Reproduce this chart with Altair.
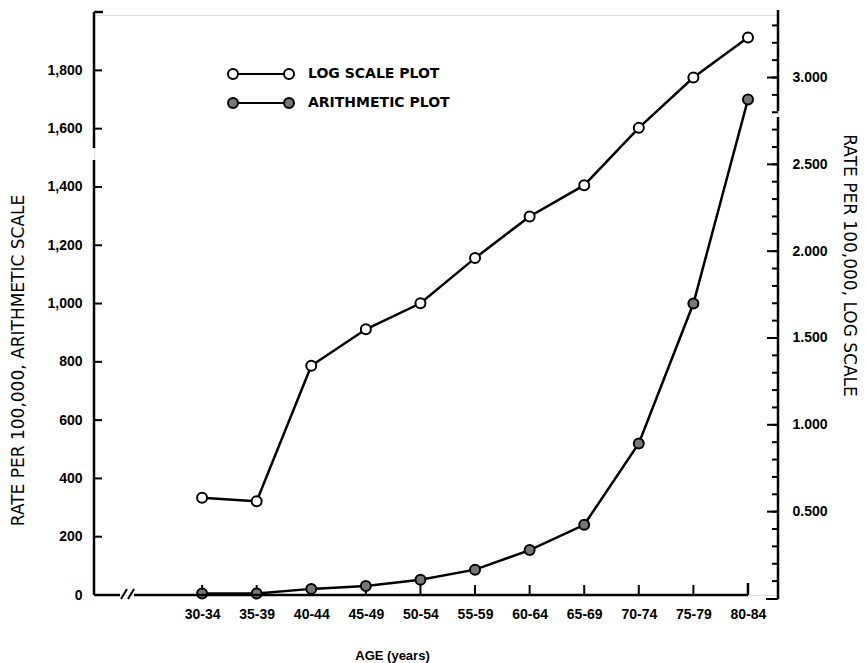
import altair as alt
import pandas as pd

# ---------------- data ----------------
age_groups = ["30-34", "35-39", "40-44", "45-49", "50-54", "55-59",
              "60-64", "65-69", "70-74", "75-79", "80-84"]
arith_rate = [5, 5, 21, 31, 52, 87, 154, 241, 520, 1000, 1700]          # left axis
log_rate = [0.58, 0.56, 1.34, 1.55, 1.70, 1.96, 2.20, 2.38, 2.71, 3.00, 3.23]  # right axis
left_ticks = [0, 200, 400, 600, 800, 1000, 1200, 1400, 1600, 1800]
right_major = [0.5, 1.0, 1.5, 2.0, 2.5, 3.0]
right_minor = [i / 10 for i in range(1, 34)]
legend_labels = ["LOG SCALE PLOT", "ARITHMETIC PLOT"]
x_title = "AGE (years)"
left_title = "RATE PER 100,000, ARITHMETIC SCALE"
right_title = "RATE PER 100,000, LOG SCALE"

# ---------------- layout / style ----------------
FONT = "Liberation Sans"
TFONT = "DejaVu Sans"
W, H = 684, 580
XMIN, XMAX = -1.98, 10.55
LW = 2.5

df = pd.DataFrame({"idx": list(range(len(age_groups))), "age": age_groups,
                   "arith": arith_rate, "log": log_rate})
one = pd.DataFrame({"d": [0]})

label_expr = "[" + ",".join(f"'{a}'" for a in age_groups) + "][datum.value]"

x_axis = alt.Axis(values=list(range(len(age_groups))), labelExpr=label_expr,
                  domain=False, ticks=False, grid=False, labelPadding=12,
                  labelFont=FONT, labelFontSize=14, labelFontWeight="bold", labelColor="black",
                  title=x_title, titleX=298, titleY=60, titleAlign="center",
                  titleBaseline="middle", titleFont=FONT, titleFontSize=13,
                  titleFontWeight="bold", titleColor="black")
xenc = alt.X("idx:Q", scale=alt.Scale(domain=[XMIN, XMAX], nice=False, zero=False), axis=x_axis)

left_axis = alt.Axis(values=left_ticks, format=",d", domain=False, ticks=False, grid=False,
                     labelPadding=12, labelFont=FONT, labelFontSize=14, labelFontWeight="bold",
                     labelColor="black", title=left_title, titleX=-76, titleY=345,
                     titleAngle=270, titleAlign="center", titleBaseline="middle",
                     titleFont=TFONT, titleFontSize=17, titleFontWeight="normal", titleColor="black")
yL = alt.Y("arith:Q", scale=alt.Scale(domain=[0, 1990], nice=False, zero=False), axis=left_axis)

right_axis = alt.Axis(orient="right", values=right_major, format=".3f", domain=False, ticks=False,
                      grid=False, labelPadding=14, labelFont=FONT, labelFontSize=14,
                      labelFontWeight="bold", labelColor="black", title=right_title,
                      titleX=70, titleY=250, titleAngle=90, titleAlign="center",
                      titleBaseline="middle", titleFont=TFONT, titleFontSize=17,
                      titleFontWeight="normal", titleColor="black")
yR = alt.Y("log:Q", scale=alt.Scale(domain=[0.02, 3.36], nice=False, zero=False), axis=right_axis)

x_end = (10 - XMIN) / (XMAX - XMIN) * W

# ---------------- arithmetic (left) group ----------------
x_tick_rules = alt.Chart(df).mark_rule(color="black", strokeWidth=2).encode(
    x=xenc, y=alt.value(H), y2=alt.value(H - 10))
arith_line = alt.Chart(df).mark_line(color="black", strokeWidth=LW).encode(x=xenc, y=yL)
arith_pts = alt.Chart(df).mark_point(shape="circle", filled=True, fill="#777777", stroke="black",
                                     strokeWidth=2, size=100, opacity=1).encode(x=xenc, y=yL)
left_tick_rules = alt.Chart(pd.DataFrame({"arith": left_ticks})).mark_rule(
    color="black", strokeWidth=2).encode(y=yL, x=alt.value(0), x2=alt.value(8))
left_group = alt.layer(x_tick_rules, left_tick_rules, arith_line, arith_pts)

# ---------------- log (right) group ----------------
log_line = alt.Chart(df).mark_line(color="black", strokeWidth=LW).encode(x=xenc, y=yR)
log_pts = alt.Chart(df).mark_point(shape="circle", filled=True, fill="white", stroke="black",
                                   strokeWidth=2, size=100, opacity=1).encode(x=xenc, y=yR)
right_major_rules = alt.Chart(pd.DataFrame({"log": right_major})).mark_rule(
    color="black", strokeWidth=2).encode(y=yR, x=alt.value(W), x2=alt.value(W - 11))
right_minor_rules = alt.Chart(pd.DataFrame({"log": right_minor})).mark_rule(
    color="black", strokeWidth=2).encode(y=yR, x=alt.value(W), x2=alt.value(W - 6))
right_group = alt.layer(right_major_rules, right_minor_rules, log_line, log_pts)

# ---------------- axis lines & breaks ----------------
def seg(x1, y1, x2, y2, w=LW):
    return alt.Chart(one).mark_rule(color="black", strokeWidth=w).encode(
        x=alt.value(x1), y=alt.value(y1), x2=alt.value(x2), y2=alt.value(y2))

deco = [
    seg(0, -3, 0, 133), seg(0, 145, 0, H),          # left axis with break
    seg(0, -3, 9, -3),                              # top stub
    seg(0, H, 26, H), seg(40, H, x_end, H),         # x axis with break
    seg(27, H + 4, 33, H - 6, 2), seg(34, H + 4, 40, H - 6, 2),  # "//"
    seg(x_end, H, x_end, H - 12),                   # end tick
    seg(W, -5, W, 96), seg(W, 102, W, H + 4),       # right axis with break
    seg(W - 12, H + 4, W, H + 4, 2),                # bottom stub
]

# ---------------- legend ----------------
LX1, LX2, LTX = 139, 195, 214
LY = [59, 88]
leg = []
fills = ["white", "#777777"]
for i in range(2):
    leg.append(seg(LX1, LY[i], LX2, LY[i], 2))
    for lx in (LX1, LX2):
        leg.append(alt.Chart(one).mark_point(shape="circle", filled=True, fill=fills[i],
                                             stroke="black", strokeWidth=2, size=100, opacity=1)
                   .encode(x=alt.value(lx), y=alt.value(LY[i])))
    leg.append(alt.Chart(one).mark_text(text=legend_labels[i], align="left", baseline="middle",
                                        font=TFONT, fontSize=14, fontWeight="bold", color="black")
               .encode(x=alt.value(LTX), y=alt.value(LY[i])))

chart = alt.layer(left_group, right_group, *deco, *leg).resolve_scale(
    y="independent"
).properties(
    width=W, height=H,
    autosize=alt.AutoSizeParams(type="none"),
    padding={"left": 94, "top": 15, "right": 866 - 94 - W, "bottom": 663 - 15 - H},
).configure_view(stroke=None).configure(background="white")

chart.save("out.html", embed_options={"renderer": "svg", "actions": False})
